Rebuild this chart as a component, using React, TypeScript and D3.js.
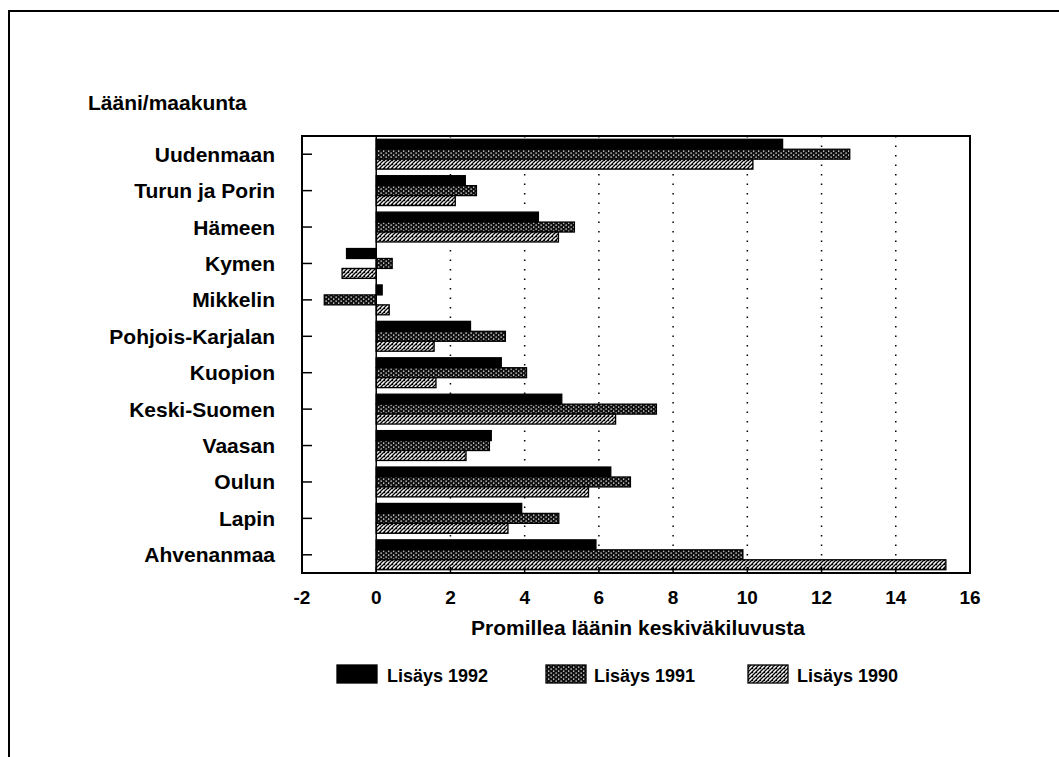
import React from "react";
import * as d3 from "d3";

const categories = [
  "Uudenmaan",
  "Turun ja Porin",
  "Hämeen",
  "Kymen",
  "Mikkelin",
  "Pohjois-Karjalan",
  "Kuopion",
  "Keski-Suomen",
  "Vaasan",
  "Oulun",
  "Lapin",
  "Ahvenanmaa",
];
const lisays1992 = [10.95, 2.4, 4.37, -0.8, 0.16, 2.54, 3.37, 5.0, 3.1, 6.32, 3.92, 5.92];
const lisays1991 = [12.76, 2.7, 5.34, 0.43, -1.4, 3.48, 4.05, 7.55, 3.05, 6.85, 4.92, 9.88];
const lisays1990 = [10.15, 2.13, 4.91, -0.92, 0.35, 1.56, 1.61, 6.45, 2.42, 5.72, 3.55, 15.35];
const seriesNames = ["Lisäys 1992", "Lisäys 1991", "Lisäys 1990"];
const xTicks = [-2, 0, 2, 4, 6, 8, 10, 12, 14, 16];
const gridTicks = [2, 4, 6, 8, 10, 12, 14];
const yTitle = "Lääni/maakunta";
const xTitle = "Promillea läänin keskiväkiluvusta";

const FONT = "'Liberation Sans', Arial, Helvetica, sans-serif";

export default function App() {
  const left = 302, right = 970, top = 136, bottom = 573;
  const x = d3.scaleLinear().domain([-2, 16]).range([left, right]);
  const y = d3.scaleBand<string>().domain(categories).range([top, bottom]);
  const series = [lisays1992, lisays1991, lisays1990];
  const fills = ["#000", "url(#pat1991)", "url(#pat1990)"];
  const groupH = y.bandwidth() * 0.82;
  const inner = d3.scaleBand<number>().domain([0, 1, 2]).range([0, groupH]);
  const legendPos = [
    { bx: 337, tx: 387 },
    { bx: 546, tx: 594 },
    { bx: 748, tx: 797 },
  ];

  return (
    <svg
      width={1059}
      height={757}
      style={{ position: "absolute", left: 0, top: 0, background: "#fff" }}
      fontFamily={FONT}
    >
      <defs>
        <pattern id="pat1991" width={5} height={4} patternUnits="userSpaceOnUse">
          <rect width={5} height={4} fill="#111" />
          <rect x={0.5} y={0.5} width={1.3} height={1.2} fill="#fff" />
          <rect x={3} y={2.5} width={1.3} height={1.2} fill="#fff" />
        </pattern>
        <pattern id="pat1990" width={4} height={4} patternUnits="userSpaceOnUse">
          <rect width={4} height={4} fill="#fff" />
          <path d="M0,4 L4,0 M-1,1 L1,-1 M3,5 L5,3" stroke="#000" strokeWidth={1.3} />
          <rect x={0} y={0} width={1.2} height={1.2} fill="#000" />
        </pattern>
      </defs>

      {/* outer frame */}
      <line x1={8} y1={11} x2={1059} y2={11} stroke="#000" strokeWidth={2} />
      <line x1={9} y1={11} x2={9} y2={757} stroke="#000" strokeWidth={2} />

      <text x={88} y={110} fontSize={21} fontWeight="bold">{yTitle}</text>

      {/* grid */}
      {gridTicks.map((t) => (
        <line key={"g" + t} x1={x(t)} x2={x(t)} y1={top} y2={bottom} stroke="#000" strokeWidth={1.5} strokeDasharray="1.5,8" />
      ))}

      {/* bars */}
      {categories.map((c, i) =>
        series.map((s, k) => {
          const v = s[i];
          const y0 = (y(c) as number) + (y.bandwidth() - groupH) / 2 + (inner(k) as number);
          return (
            <rect
              key={c + k}
              x={Math.min(x(0), x(v))}
              y={y0}
              width={Math.abs(x(v) - x(0))}
              height={inner.bandwidth()}
              fill={fills[k]}
              stroke="#000"
              strokeWidth={1.3}
            />
          );
        })
      )}

      {/* zero line */}
      <line x1={x(0)} x2={x(0)} y1={top} y2={bottom} stroke="#000" strokeWidth={1.5} />

      {/* plot frame */}
      <rect x={left} y={top} width={right - left} height={bottom - top} fill="none" stroke="#000" strokeWidth={2} />

      {/* y ticks and labels */}
      {categories.map((c) => {
        const cy = (y(c) as number) + y.bandwidth() / 2;
        return (
          <g key={"yl" + c}>
            <line x1={left} x2={left + 10} y1={cy} y2={cy} stroke="#000" strokeWidth={1.5} />
            <text x={275} y={cy + 7.5} textAnchor="end" fontSize={21} fontWeight="bold">{c}</text>
          </g>
        );
      })}

      {/* x ticks and labels */}
      {xTicks.map((t) => (
        <g key={"xt" + t}>
          <line x1={x(t)} x2={x(t)} y1={bottom} y2={bottom - 6} stroke="#000" strokeWidth={1.5} />
          <text x={x(t)} y={604} textAnchor="middle" fontSize={19} fontWeight="bold">{t}</text>
        </g>
      ))}

      <text x={(left + right) / 2 + 2} y={635} textAnchor="middle" fontSize={21} fontWeight="bold">{xTitle}</text>

      {/* legend */}
      {seriesNames.map((n, k) => (
        <g key={"lg" + n}>
          <rect x={legendPos[k].bx} y={665} width={40} height={18} fill={fills[k]} stroke="#000" strokeWidth={1.3} />
          <text x={legendPos[k].tx} y={682} fontSize={18} fontWeight="bold">{n}</text>
        </g>
      ))}
    </svg>
  );
}
